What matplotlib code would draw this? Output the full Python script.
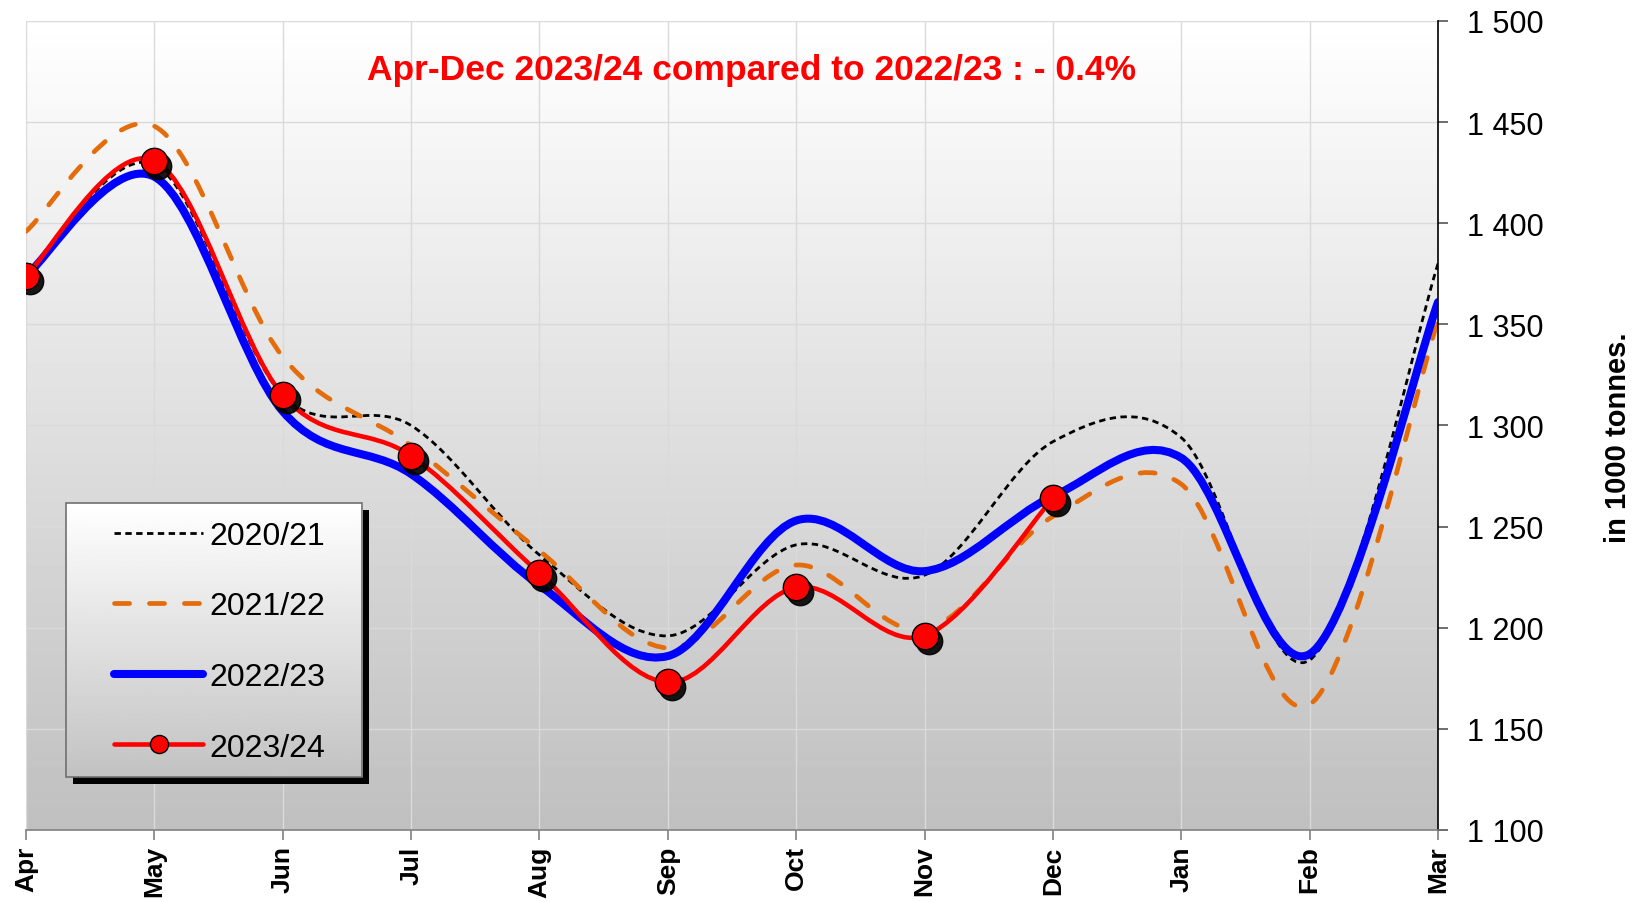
import matplotlib
matplotlib.use("Agg")
import matplotlib.pyplot as plt
import matplotlib.transforms as mtransforms
import numpy as np
from matplotlib.lines import Line2D
from matplotlib.patches import PathPatch, Rectangle
from matplotlib.path import Path

# =====================================================================
# Data (monthly values, in 1000 tonnes)
# =====================================================================
months = ["Apr", "May", "Jun", "Jul", "Aug", "Sep", "Oct", "Nov", "Dec", "Jan", "Feb", "Mar"]

y2020_21 = [1374, 1429, 1315, 1300, 1236, 1196, 1241, 1226, 1292, 1294, 1184, 1380]
y2021_22 = [1396, 1448, 1334, 1290, 1238, 1190, 1231, 1199, 1255, 1271, 1162, 1352]
y2022_23 = [1374, 1423, 1307, 1276, 1221, 1186, 1253, 1228, 1265, 1284, 1187, 1361]
y2023_24 = [1374, 1431, 1315, 1285, 1227, 1173, 1220, 1196, 1264]  # Apr-Dec only

ytick_values = [1100, 1150, 1200, 1250, 1300, 1350, 1400, 1450, 1500]
ytick_labels = ["1 100", "1 150", "1 200", "1 250", "1 300", "1 350", "1 400", "1 450", "1 500"]

title_text = "Apr-Dec 2023/24 compared to 2022/23 : - 0.4%"
ylabel_text = "in 1000 tonnes."

plt.rcParams["font.family"] = ["Liberation Sans", "DejaVu Sans"]


def smooth_path(values):
    # Excel-like smoothed line: cubic bezier through every point
    pts = np.column_stack([np.arange(len(values)), values]).astype(float)
    n = len(pts)
    verts = [pts[0]]
    codes = [Path.MOVETO]
    for i in range(n - 1):
        p_prev = pts[i - 1] if i > 0 else pts[i]
        p_next2 = pts[i + 2] if i + 2 < n else pts[i + 1]
        c1 = pts[i] + (pts[i + 1] - p_prev) / 6.0
        c2 = pts[i + 1] - (p_next2 - pts[i]) / 6.0
        verts += [c1, c2, pts[i + 1]]
        codes += [Path.CURVE4] * 3
    return Path(verts, codes)


fig = plt.figure(figsize=(16.37, 9.03), dpi=100)
ax = fig.add_axes([26 / 1637, 1 - 831 / 903, (1438 - 26) / 1637, (831 - 22) / 903])

# gradient background of the plot area
grad = np.linspace(1.0, 0.0, 256).reshape(-1, 1)
ax.imshow(grad, cmap="gray", vmin=-3.0, vmax=1.0, aspect="auto",
          extent=[0, 1, 0, 1], transform=ax.transAxes, zorder=0)

x = np.arange(len(months))

series = [
    (y2020_21, dict(edgecolor="black", lw=2.0, linestyle=(0, (2.3, 1.6)), capstyle="butt")),
    (y2021_22, dict(edgecolor="#e46c0a", lw=3.4, linestyle=(0, (3.2, 4.2)), capstyle="round")),
    (y2022_23, dict(edgecolor="#0000ff", lw=5.8, linestyle="-", capstyle="round")),
    (y2023_24, dict(edgecolor="#ff0000", lw=3.3, linestyle="-", capstyle="round")),
]
for i, (vals, style) in enumerate(series):
    patch = PathPatch(smooth_path(vals), fill=False, joinstyle="round", zorder=2 + i * 0.1, **style)
    ax.add_patch(patch)

# markers with a black drop shadow
shadow_tr = ax.transData + mtransforms.ScaledTranslation(4 / 100, -5 / 100, fig.dpi_scale_trans)
ax.plot(x[:len(y2023_24)], y2023_24, "o", ms=19, color="black", alpha=0.9,
        transform=shadow_tr, zorder=2.35)
ax.plot(x[:len(y2023_24)], y2023_24, "o", ms=19, mfc="#ff0000", mec="black", mew=1.0,
        linestyle="none", zorder=2.4)

ax.set_xticks(x)
ax.set_xticklabels(months, rotation=90, fontsize=19, fontweight="bold")
ax.yaxis.tick_right()
ax.set_yticks(ytick_values)
ax.set_yticklabels(ytick_labels, fontsize=22)
ax.tick_params(axis="x", length=7, width=1.2, color="#808080", pad=4)
ax.tick_params(axis="y", length=7, width=1.2, color="#555555", pad=14)

ax.grid(True, color="#dadada", lw=1.0, zorder=1)
ax.set_axisbelow(True)
for side in ["left", "top"]:
    ax.spines[side].set_visible(False)
ax.spines["right"].set_color("black")
ax.spines["right"].set_linewidth(1.2)
ax.spines["bottom"].set_color("#808080")
ax.spines["bottom"].set_linewidth(1.2)

ax.text(0.514, 0.940, title_text, transform=ax.transAxes, ha="center", va="center",
        color="#ff0000", fontsize=25.5, fontweight="bold", zorder=6)

fig.text(1618 / 1637, 1 - 438 / 903, ylabel_text, rotation=90, ha="center", va="center",
         fontsize=21, fontweight="bold", family=["Liberation Sans Narrow", "Liberation Sans"])

# legend box: shadow, gradient fill, frame
bx0, bx1, by0, by1 = 0.0283, 0.238, 0.0655, 0.404
box_shadow_tr = ax.transAxes + mtransforms.ScaledTranslation(7 / 100, -7 / 100, fig.dpi_scale_trans)
ax.add_patch(Rectangle((bx0, by0), bx1 - bx0, by1 - by0, transform=box_shadow_tr,
                       facecolor="black", edgecolor="none", zorder=4.0))
ax.imshow(grad, cmap="gray", vmin=-3.2, vmax=1.0, aspect="auto",
          extent=[bx0, bx1, by0, by1], transform=ax.transAxes, zorder=4.1)
ax.add_patch(Rectangle((bx0, by0), bx1 - bx0, by1 - by0, transform=ax.transAxes,
                       facecolor="none", edgecolor="#707070", lw=1.2, zorder=4.2))
ax.set_xlim(0, len(months) - 1)
ax.set_ylim(ytick_values[0], ytick_values[-1])

handles = [
    Line2D([], [], color="black", lw=2.0, linestyle=(0, (2.3, 1.6))),
    Line2D([], [], color="#e46c0a", lw=3.4, linestyle=(0, (3.2, 4.2)), dash_capstyle="round"),
    Line2D([], [], color="#0000ff", lw=5.8, solid_capstyle="round"),
    Line2D([], [], color="#ff0000", lw=3.3, marker="o", ms=13, mfc="#ff0000", mec="black",
           mew=1.0, solid_capstyle="round"),
]
labels = ["2020/21", "2021/22", "2022/23", "2023/24"]
leg = ax.legend(handles, labels, loc="center", bbox_to_anchor=((bx0 + bx1) / 2 + 0.004, (by0 + by1) / 2 - 0.002),
                frameon=False, fontsize=23, handlelength=2.8, handletextpad=0.2,
                labelspacing=1.27, numpoints=1)
leg.set_zorder(5)

fig.savefig("out.png", dpi=100)
